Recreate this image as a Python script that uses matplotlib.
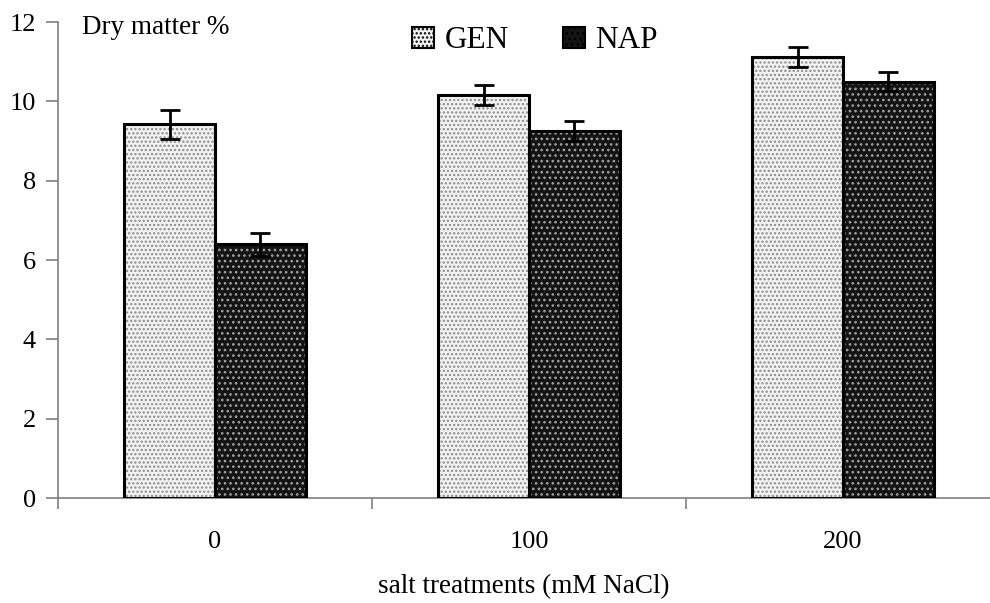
import matplotlib
matplotlib.use("Agg")
import matplotlib.pyplot as plt
import numpy as np
from matplotlib.patches import Patch

plt.rcParams['font.family'] = ['Liberation Serif', 'DejaVu Serif']
plt.rcParams['hatch.linewidth'] = 1.1

categories = ['0', '100', '200']
gen_values = [9.42, 10.17, 11.12]
gen_err = [0.36, 0.25, 0.26]
nap_values = [6.40, 9.26, 10.50]
nap_err = [0.29, 0.25, 0.24]

fig = plt.figure(figsize=(9.9, 6.03), dpi=100)
ax = fig.add_axes([0.0586, 0.1741, 0.9414, 0.7894])

x = np.arange(len(categories))
w = 0.289
axis_grey = '#7f7f7f'

# filled bars with dotted texture
ax.bar(x - w / 2, gen_values, w, color='#f2f2f2', edgecolor='#8c8c8c',
       hatch='....', linewidth=0, zorder=2)
ax.bar(x + w / 2, nap_values, w, color='#141414', edgecolor='#a0a0a0',
       hatch='...', linewidth=0, zorder=2)
# outlines
ax.bar(x - w / 2, gen_values, w, fill=False, edgecolor='black', linewidth=2.2, zorder=3)
ax.bar(x + w / 2, nap_values, w, fill=False, edgecolor='black', linewidth=2.2, zorder=3)

ax.errorbar(x - w / 2, gen_values, yerr=gen_err, fmt='none', ecolor='black',
            elinewidth=2.0, capsize=7, capthick=2.0, zorder=4)
ax.errorbar(x + w / 2, nap_values, yerr=nap_err, fmt='none', ecolor='black',
            elinewidth=2.0, capsize=7, capthick=2.0, zorder=4)

ax.set_yticks(np.arange(0, 13, 2))
ax.set_xticks(x)
ax.set_xticklabels(categories)
ax.set_xticks([-0.5, 0.5, 1.5], minor=True)
# limits set after the ticks so they are not widened
ax.set_ylim(0, 12)
ax.set_xlim(-0.5, -0.5 + (990 - 58) / 314)

for s in ['top', 'right']:
    ax.spines[s].set_visible(False)
for s in ['left', 'bottom']:
    ax.spines[s].set_color(axis_grey)
    ax.spines[s].set_linewidth(1.2)

ax.tick_params(axis='y', direction='out', length=9, width=1.2, color=axis_grey,
               labelsize=19, pad=7)
ax.tick_params(axis='x', which='major', length=0, labelsize=19, pad=24)
ax.tick_params(axis='x', which='minor', direction='out', length=8, width=1.2,
               color=axis_grey)

ax.set_xlabel('salt treatments (mM NaCl)', fontsize=19.5, labelpad=15)
ax.text(0.026, 11.87, 'Dry matter %', fontsize=19.5, va='center', ha='left',
        transform=ax.get_yaxis_transform())

handles = [
    Patch(facecolor='#f2f2f2', edgecolor='black', hatch='....', linewidth=1.5, label='GEN'),
    Patch(facecolor='#141414', edgecolor='black', hatch='...', linewidth=1.5, label='NAP'),
]
leg = ax.legend(handles=handles, ncol=2, frameon=False, fontsize=22.5,
                loc='upper center', bbox_to_anchor=(0.512, 1.05),
                handlelength=0.68, handleheight=0.68, handletextpad=0.35,
                columnspacing=1.75)

fig.savefig('out.png', dpi=100)
